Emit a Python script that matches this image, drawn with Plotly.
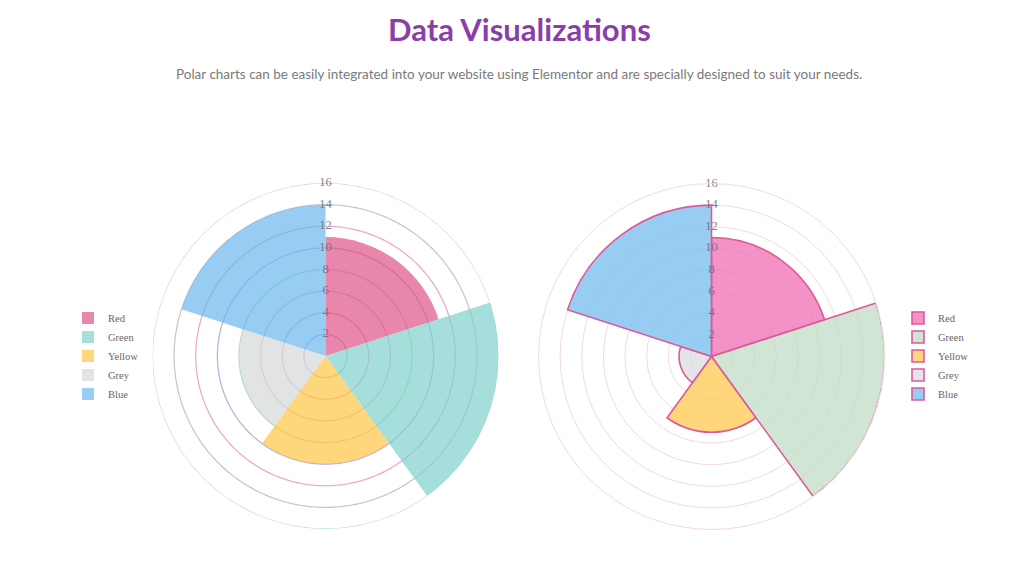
import numpy as np
import plotly.graph_objects as go

# ---- data ----
categories = ["Red", "Green", "Yellow", "Grey", "Blue"]
left_values = [11, 16, 10, 8, 14]
right_values = [11, 16, 7, 3, 14]
tick_values = [2, 4, 6, 8, 10, 12, 14, 16]
tick_labels = [str(v) for v in tick_values]

title_text = "Data Visualizations"
subtitle_text = ("Polar charts can be easily integrated into your website using "
                 "Elementor and are specially designed to suit your needs.")

# ---- styles ----
left_fill = ["rgba(222,82,135,0.7)", "rgba(128,208,205,0.7)", "rgba(254,196,68,0.7)",
             "rgba(214,215,216,0.7)", "rgba(107,184,238,0.7)"]
right_fill = ["rgba(240,110,180,0.75)", "rgba(194,220,198,0.75)", "rgba(255,204,91,0.8)",
              "rgba(219,219,225,0.75)", "rgba(125,193,240,0.8)"]
right_border = "#dc5a96"
left_ring_cycle = ["#b9aee0", "#eca6c4", "#c9c2cc", "#a9dfb2"]  # 2,4,6,8,10,12,14,16
right_grid = "#f5d8e3"

n = len(categories)
step = 360 / n
theta_centers = [i * step + step / 2 for i in range(n)]

fig = go.Figure()

# left chart rings (under bars) on polar
ring_theta = np.linspace(0, 360, 361)
for i, v in enumerate(tick_values):
    fig.add_trace(go.Scatterpolar(
        r=[v] * len(ring_theta), theta=ring_theta, mode="lines",
        line=dict(color=left_ring_cycle[i % len(left_ring_cycle)], width=1.2),
        hoverinfo="skip", showlegend=False, subplot="polar", cliponaxis=False))

# left bars on polar2
for i, c in enumerate(categories):
    fig.add_trace(go.Barpolar(
        r=[left_values[i]], theta=[theta_centers[i]], width=[step], name=c,
        marker=dict(color=left_fill[i], line=dict(width=0)),
        subplot="polar2", legend="legend", showlegend=True))

# left tick labels
fig.add_trace(go.Scatterpolar(
    r=tick_values, theta=[0] * len(tick_values), mode="text", text=tick_labels,
    textfont=dict(family="Liberation Serif", size=12.5, color="rgba(110,110,120,0.9)"),
    hoverinfo="skip", showlegend=False, subplot="polar2", cliponaxis=False))

# right bars on polar3
for i, c in enumerate(categories):
    fig.add_trace(go.Barpolar(
        r=[right_values[i]], theta=[theta_centers[i]], width=[step], name=c,
        marker=dict(color=right_fill[i], line=dict(width=1.6, color=right_border)),
        subplot="polar3", legend="legend2", showlegend=True))

fig.add_trace(go.Scatterpolar(
    r=tick_values, theta=[0] * len(tick_values), mode="text", text=tick_labels,
    textfont=dict(family="Liberation Serif", size=12.5, color="rgba(110,110,120,0.9)"),
    hoverinfo="skip", showlegend=False, subplot="polar3", cliponaxis=False))

# page has an 8px body margin around the figure
OFF = 8
W, H = 1024 - 2 * OFF, 567 - 2 * OFF
R = 173
lc = (325.5 - OFF, 356 - OFF)
rc = (711.5 - OFF, 356.5 - OFF)


def dom(c):
    return dict(x=[(c[0] - R) / W, (c[0] + R) / W],
                y=[(H - c[1] - R) / H, (H - c[1] + R) / H])


def polar_cfg(c, grid=None):
    return dict(
        domain=dom(c), bgcolor="rgba(0,0,0,0)", hole=0,
        radialaxis=dict(range=[0, 16], showline=False, ticks="", showticklabels=False,
                        tickvals=tick_values, showgrid=grid is not None,
                        gridcolor=grid or "white", gridwidth=1),
        angularaxis=dict(rotation=90, direction="clockwise",
                         showline=grid is not None, linecolor=grid or "white", linewidth=1,
                         showgrid=False, showticklabels=False, ticks=""),
    )


legend_font = dict(family="Liberation Serif", size=10.5, color="#666666")

fig.update_layout(
    width=W, height=H, margin=dict(l=0, r=0, t=0, b=0),
    paper_bgcolor="white", plot_bgcolor="white",
    polar=polar_cfg(lc), polar2=polar_cfg(lc), polar3=polar_cfg(rc, right_grid),
    legend=dict(x=(68 - OFF) / W, y=1 - (356 - OFF) / H, xanchor="left", yanchor="middle",
                font=legend_font, bgcolor="rgba(0,0,0,0)", tracegroupgap=0),
    legend2=dict(x=(898 - OFF) / W, y=1 - (356 - OFF) / H, xanchor="left", yanchor="middle",
                 font=legend_font, bgcolor="rgba(0,0,0,0)", tracegroupgap=0),
    annotations=[
        dict(text="<b>" + title_text + "</b>", x=(519 - OFF) / W, y=1 - (29 - OFF) / H,
             xref="paper", yref="paper", showarrow=False, xanchor="center", yanchor="middle",
             font=dict(family="Lato", size=31, color="#8a3fa8")),
        dict(text=subtitle_text, x=(519 - OFF) / W, y=1 - (74 - OFF) / H,
             xref="paper", yref="paper", showarrow=False, xanchor="center", yanchor="middle",
             font=dict(family="Lato", size=13.5, color="#7a7a7a")),
    ],
)

fig.write_html("out.html")
